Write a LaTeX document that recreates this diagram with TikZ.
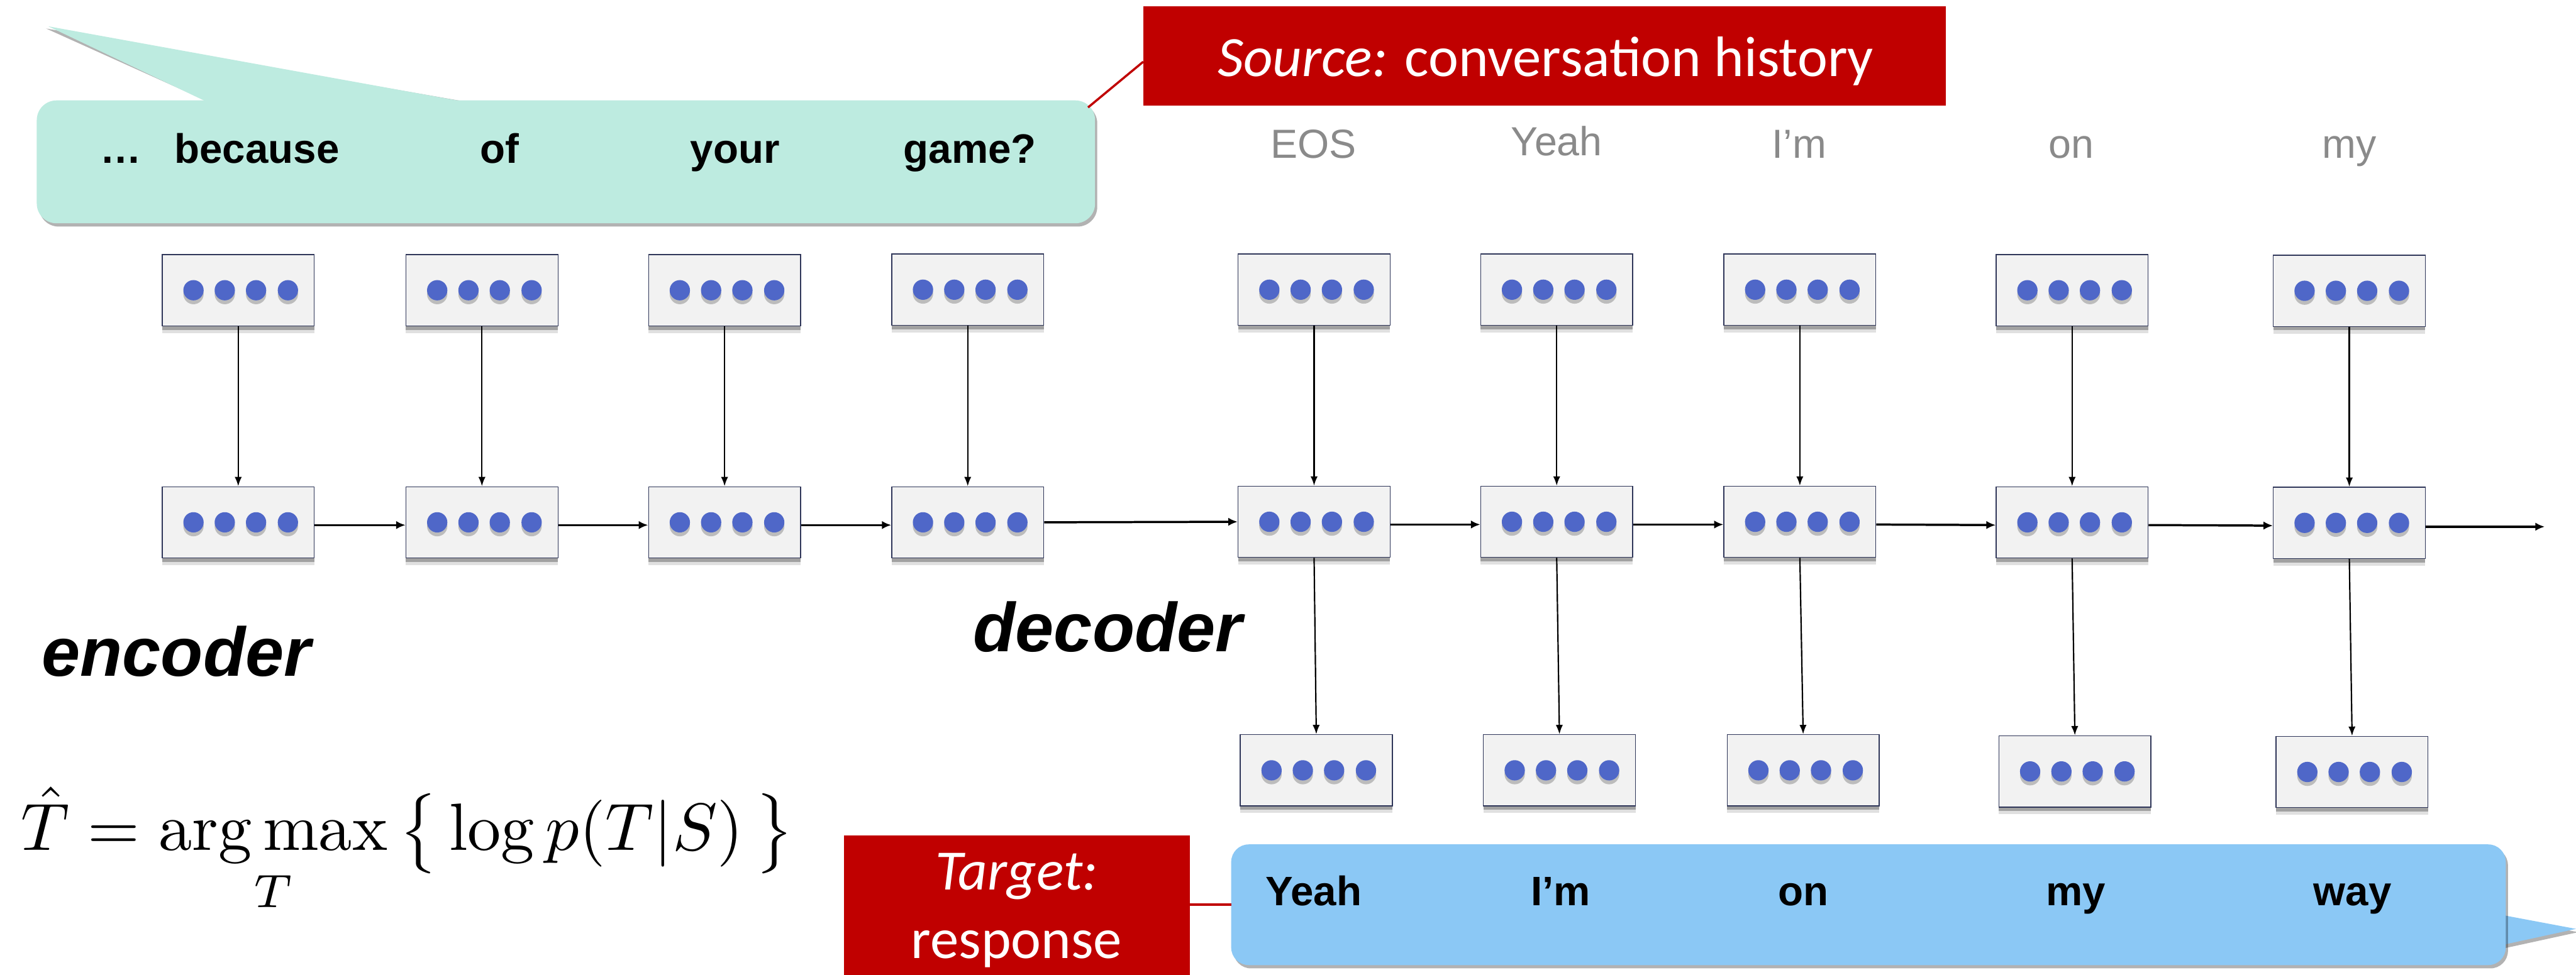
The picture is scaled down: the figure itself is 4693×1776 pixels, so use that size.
\documentclass[tikz,border=0pt]{standalone}
\usepackage{fontspec}
\usepackage{graphicx}
\newfontfamily\arialfont{Liberation Sans}
\newfontfamily\calfont{Carlito}
\usetikzlibrary{arrows.meta,calc}
\definecolor{cellfill}{HTML}{F2F2F2}
\definecolor{celledge}{HTML}{2F3659}
\definecolor{dotblue}{HTML}{4F67C8}
\definecolor{srcteal}{HTML}{BDEBE0}
\definecolor{tgtblue}{HTML}{8BC8F5}
\definecolor{labelred}{HTML}{C00000}
\definecolor{wordgrey}{HTML}{8A8A8A}
\begin{document}
\begin{tikzpicture}[x=1pt,y=-1pt,
  cell/.style={rectangle, minimum width=277pt, minimum height=130pt, inner sep=0pt,
    fill=cellfill, draw=celledge, line width=1.5pt,
    preaction={fill=black, opacity=0.12, transform canvas={yshift=-13pt}},
    preaction={fill=black, opacity=0.28, transform canvas={yshift=-7pt}}},
  vline/.style={line width=2.5pt, -{Latex[length=17pt,width=13pt]}},
  hline/.style={line width=4pt, -{Latex[length=17pt,width=15pt]}},
  bubble/.style={rectangle, inner sep=0pt,
    preaction={fill=black, opacity=0.3, transform canvas={xshift=4pt,yshift=-6pt}}},
  srcword/.style={font=\arialfont\bfseries\fontsize{75}{90}\selectfont, anchor=base, inner sep=0pt},
  decword/.style={font=\arialfont\fontsize{74}{90}\selectfont, text=wordgrey, anchor=base, inner sep=0pt},
  redbox/.style={rectangle, fill=labelred, inner sep=0pt},
  redtext/.style={font=\calfont\fontsize{104}{120}\selectfont, text=white, anchor=base, inner sep=0pt},
  redline/.style={draw=labelred, line width=4pt},
  partname/.style={font=\arialfont\bfseries\itshape\fontsize{126}{150}\selectfont, anchor=base west, inner sep=0pt}
]
\clip (0,0) rectangle (4693,1776);
\fill[white] (0,0) rectangle (4693,1776);

% ---------- source speech bubble ----------
\fill[black, opacity=0.3] (390,190) -- (84,52) -- (875,190) -- cycle;
\fill[srcteal] (386,190) -- (88,48) -- (871,190) -- cycle;
\node[bubble, fill=srcteal, rounded corners=36pt, minimum width=1928pt, minimum height=224pt] (srcbubble) at (1031,295) {};
\node[srcword] (w0) at (220,297) {…};
\node[srcword] (w1) at (468,297) {because};
\node[srcword] (w2) at (910,297) {of};
\node[srcword] (w3) at (1339,297) {your};
\node[srcword] (w4) at (1767,297) {game?};

% ---------- source label ----------
\node[redbox, minimum width=1462pt, minimum height=181pt] (srcbox) at (2814,102.5) {};
\node[redtext] (srctext) at (2816,139) {\itshape Source:\upshape{} conversation history};
\draw[redline] ($(srcbubble.north east)+(-13,13)$) -- ([yshift=-10pt]srcbox.west);

% ---------- decoder input words ----------
\node[decword] (y0) at (2393,288) {EOS};
\node[decword] (y1) at (2836,284) {Yeah};
\node[decword] (y2) at (3278,288) {I’m};
\node[decword] (y3) at (3773,288) {on};
\node[decword] (y4) at (4280,288) {my};

% ---------- encoder cells ----------
\node[cell] (et1) at (434,529) {};
\node[cell] (et2) at (878,529) {};
\node[cell] (et3) at (1320,529) {};
\node[cell] (et4) at (1763,528) {};
\node[cell] (em1) at (434,952) {};
\node[cell] (em2) at (878,952) {};
\node[cell] (em3) at (1320,952) {};
\node[cell] (em4) at (1763,952) {};

% ---------- decoder cells ----------
\node[cell] (dt1) at (2394,528) {};
\node[cell] (dt2) at (2836,528) {};
\node[cell] (dt3) at (3279,528) {};
\node[cell] (dt4) at (3775,529) {};
\node[cell] (dt5) at (4280,530) {};
\node[cell] (dm1) at (2394,951) {};
\node[cell] (dm2) at (2836,951) {};
\node[cell] (dm3) at (3279,951) {};
\node[cell] (dm4) at (3775,952) {};
\node[cell] (dm5) at (4280,953) {};
\node[cell] (db1) at (2398,1404) {};
\node[cell] (db2) at (2841,1404) {};
\node[cell] (db3) at (3285,1404) {};
\node[cell] (db4) at (3780,1406) {};
\node[cell] (db5) at (4285,1407) {};

% hidden-unit dots inside every cell
\foreach \c in {et1,et2,et3,et4,em1,em2,em3,em4,
                dt1,dt2,dt3,dt4,dt5,dm1,dm2,dm3,dm4,dm5,db1,db2,db3,db4,db5}{
  \foreach \dx in {-81.5,-24.5,32.5,90.5}{
    \fill[black, opacity=0.22] ($(\c.center)+(\dx,7)$) circle (18.5);
    \fill[dotblue] ($(\c.center)+(\dx,0)$) circle (18.5);
  }
}

% ---------- connections ----------
\foreach \i in {1,...,4}{ \draw[vline] (et\i.south) -- (em\i.north); }
\foreach \i in {1,...,5}{
  \draw[vline] (dt\i.south) -- (dm\i.north);
  \draw[vline] (dm\i.south) -- (db\i.north);
}
\draw[hline] ([yshift=-5pt]em1.east) -- ([yshift=-5pt]em2.west);
\draw[hline] ([yshift=-5pt]em2.east) -- ([yshift=-5pt]em3.west);
\draw[hline] ([yshift=-5pt]em3.east) -- ([yshift=-5pt]em4.west);
\draw[hline] (em4.east) -- (dm1.west);
\draw[hline] ([yshift=-5pt]dm1.east) -- ([yshift=-5pt]dm2.west);
\draw[hline] ([yshift=-5pt]dm2.east) -- ([yshift=-5pt]dm3.west);
\draw[hline] ([yshift=-5pt]dm3.east) -- ([yshift=-5pt]dm4.west);
\draw[hline] ([yshift=-5pt]dm4.east) -- ([yshift=-5pt]dm5.west);
\coordinate (hout) at (4636,960);
\draw[hline] ([yshift=-7pt]dm5.east) -- (hout);

% ---------- part names ----------
\node[partname] (enc) at (76,1232) {encoder};
\node[partname] (dec) at (1773,1188) {decoder};

% ---------- objective ----------
\node[anchor=base west, inner sep=0pt] (objective) at (38,1550)
  {\scalebox{12.2}{$\displaystyle \hat{T} = \mathop{\mathrm{arg\,max}}\limits_{T}\,\bigl\{\,\log p(T|S)\,\bigr\}$}};

% ---------- target label and speech bubble ----------
\node[redbox, anchor=north west, minimum width=630pt, minimum height=280pt] (tgtbox) at (1537,1522) {};
\node[redtext] (tgttext1) at (1852,1622) {\itshape Target:};
\node[redtext] (tgttext2) at (1852,1747) {response};
\fill[black, opacity=0.3] (4564,1674) -- (4697,1699) -- (4564,1728) -- cycle;
\fill[tgtblue] (4560,1668) -- (4693,1693) -- (4560,1722) -- cycle;
\node[bubble, fill=tgtblue, rounded corners=32pt, minimum width=2322pt, minimum height=220pt] (tgtbubble) at (3404,1649) {};
\draw[redline] (tgtbubble.west -| tgtbox.east) -- (tgtbubble.west);
\node[srcword] (r1) at (2393,1650) {Yeah};
\node[srcword] (r2) at (2843,1650) {I’m};
\node[srcword] (r3) at (3285,1650) {on};
\node[srcword] (r4) at (3782,1650) {my};
\node[srcword] (r5) at (4286,1650) {way};
\end{tikzpicture}
\end{document}
